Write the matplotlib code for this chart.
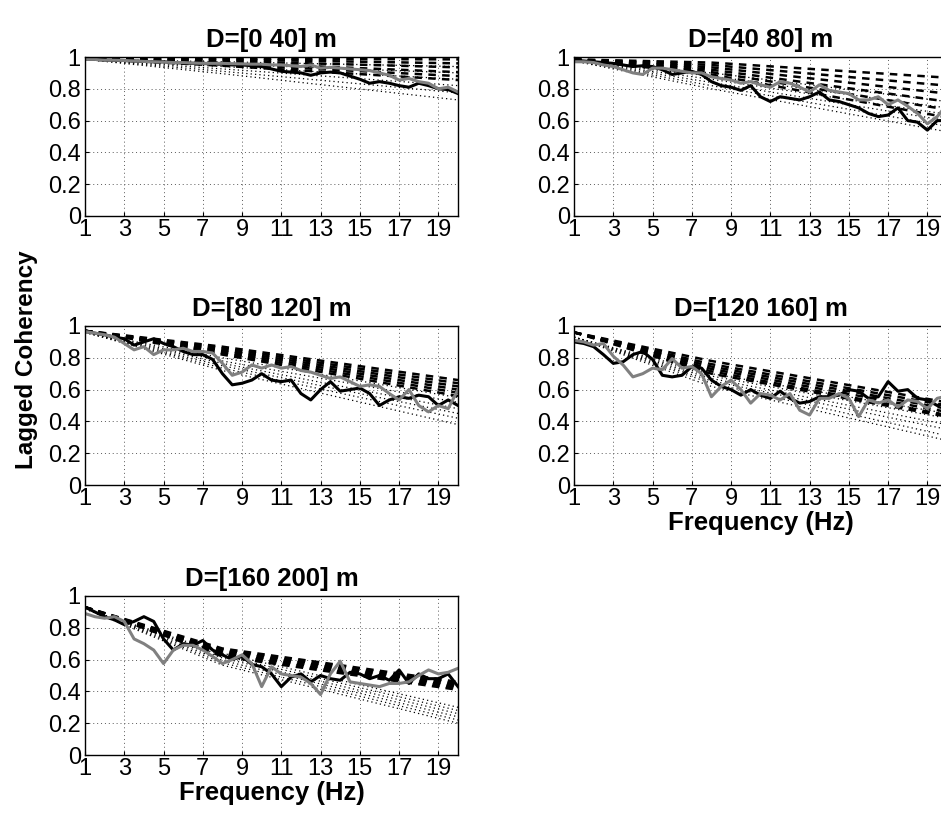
import numpy as np
import matplotlib.pyplot as plt

plt.rcParams['font.family'] = ['Liberation Sans', 'DejaVu Sans']

# frequency axis of the measured coherency
freq = np.arange(1, 20.01, 0.5)

titles = ['D=[0 40] m', 'D=[40 80] m', 'D=[80 120] m', 'D=[120 160] m', 'D=[160 200] m']

# measured lagged coherency, black and grey curves, one list per distance bin
coh_black = [
    [0.985, 0.985, 0.98, 0.98, 0.978, 0.975, 0.972, 0.97, 0.97, 0.965,
     0.962, 0.96, 0.96, 0.955, 0.955, 0.95, 0.95, 0.945, 0.94, 0.925,
     0.91, 0.905, 0.90, 0.885, 0.90, 0.905, 0.90, 0.88, 0.86, 0.835,
     0.845, 0.835, 0.82, 0.81, 0.835, 0.82, 0.80, 0.795, 0.77],
    [0.98, 0.975, 0.97, 0.965, 0.96, 0.95, 0.94, 0.945, 0.94, 0.92,
     0.89, 0.90, 0.91, 0.89, 0.845, 0.82, 0.81, 0.79, 0.82, 0.75,
     0.72, 0.75, 0.74, 0.73, 0.75, 0.78, 0.73, 0.72, 0.70, 0.68,
     0.645, 0.625, 0.635, 0.68, 0.60, 0.59, 0.54, 0.60, 0.60],
    [0.965, 0.955, 0.945, 0.93, 0.92, 0.88, 0.90, 0.92, 0.89, 0.87,
     0.84, 0.82, 0.82, 0.79, 0.70, 0.63, 0.64, 0.66, 0.70, 0.66,
     0.65, 0.66, 0.575, 0.535, 0.60, 0.65, 0.59, 0.60, 0.61, 0.575,
     0.50, 0.535, 0.555, 0.545, 0.565, 0.555, 0.50, 0.535, 0.50],
    [0.90, 0.89, 0.87, 0.82, 0.765, 0.775, 0.82, 0.84, 0.79, 0.69,
     0.68, 0.69, 0.745, 0.735, 0.66, 0.62, 0.60, 0.565, 0.60, 0.565,
     0.545, 0.59, 0.545, 0.515, 0.525, 0.555, 0.555, 0.565, 0.60, 0.59,
     0.545, 0.555, 0.65, 0.59, 0.60, 0.545, 0.535, 0.50, 0.52],
    [0.93, 0.90, 0.87, 0.85, 0.82, 0.84, 0.87, 0.84, 0.73, 0.66,
     0.70, 0.69, 0.72, 0.66, 0.63, 0.60, 0.62, 0.57, 0.555, 0.51,
     0.43, 0.49, 0.51, 0.46, 0.50, 0.48, 0.47, 0.52, 0.51, 0.48,
     0.50, 0.47, 0.535, 0.45, 0.51, 0.48, 0.48, 0.51, 0.43],
]
coh_grey = [
    [0.985, 0.985, 0.98, 0.98, 0.978, 0.975, 0.972, 0.97, 0.968, 0.965,
     0.965, 0.962, 0.96, 0.96, 0.96, 0.958, 0.957, 0.955, 0.955, 0.95,
     0.95, 0.945, 0.94, 0.95, 0.93, 0.935, 0.93, 0.925, 0.92, 0.915,
     0.90, 0.885, 0.855, 0.865, 0.845, 0.835, 0.80, 0.81, 0.78],
    [0.97, 0.97, 0.965, 0.95, 0.94, 0.92, 0.90, 0.89, 0.93, 0.93,
     0.92, 0.91, 0.90, 0.90, 0.875, 0.865, 0.855, 0.835, 0.845, 0.825,
     0.81, 0.845, 0.835, 0.81, 0.78, 0.825, 0.79, 0.78, 0.77, 0.73,
     0.73, 0.75, 0.70, 0.73, 0.69, 0.645, 0.58, 0.625, 0.70],
    [0.965, 0.955, 0.945, 0.93, 0.89, 0.85, 0.87, 0.82, 0.85, 0.85,
     0.86, 0.84, 0.84, 0.83, 0.765, 0.69, 0.71, 0.755, 0.735, 0.755,
     0.735, 0.745, 0.72, 0.71, 0.69, 0.67, 0.68, 0.65, 0.62, 0.63,
     0.62, 0.575, 0.535, 0.60, 0.50, 0.46, 0.50, 0.48, 0.60],
    [0.91, 0.90, 0.88, 0.89, 0.81, 0.755, 0.68, 0.70, 0.735, 0.725,
     0.795, 0.735, 0.745, 0.70, 0.555, 0.62, 0.66, 0.60, 0.515, 0.575,
     0.565, 0.535, 0.575, 0.47, 0.44, 0.545, 0.545, 0.575, 0.545, 0.43,
     0.535, 0.515, 0.535, 0.49, 0.535, 0.525, 0.48, 0.545, 0.56],
    [0.89, 0.87, 0.86, 0.87, 0.84, 0.73, 0.70, 0.66, 0.575, 0.66,
     0.69, 0.69, 0.66, 0.62, 0.575, 0.60, 0.63, 0.575, 0.43, 0.555,
     0.51, 0.50, 0.49, 0.45, 0.38, 0.51, 0.59, 0.46, 0.45, 0.44,
     0.43, 0.45, 0.45, 0.46, 0.50, 0.535, 0.51, 0.52, 0.545],
]

# model curves, values at f = 1, 8 and 20 Hz
knot_f = [1, 8, 20]
dash_start = [0.99, 0.985, 0.97, 0.96, 0.93]
dash_mid = [
    [0.99, 0.985, 0.975, 0.965, 0.955, 0.945],
    [0.965, 0.95, 0.935, 0.92, 0.905, 0.89],
    [0.87, 0.86, 0.85, 0.84, 0.83, 0.82],
    [0.78, 0.76, 0.745, 0.73, 0.715, 0.70],
    [0.67, 0.66, 0.65, 0.64, 0.63, 0.62],
]
dash_end = [
    [0.985, 0.96, 0.935, 0.905, 0.88, 0.855],
    [0.87, 0.82, 0.77, 0.72, 0.67, 0.62],
    [0.66, 0.64, 0.62, 0.60, 0.58, 0.56],
    [0.52, 0.50, 0.48, 0.46, 0.44, 0.43],
    [0.46, 0.45, 0.44, 0.43, 0.42, 0.41],
]
dot_start = [0.985, 0.975, 0.96, 0.93, 0.92]
dot_mid = [
    [0.97, 0.955, 0.94, 0.925, 0.91, 0.895],
    [0.90, 0.88, 0.86, 0.84, 0.82, 0.80],
    [0.80, 0.78, 0.765, 0.75, 0.735, 0.72],
    [0.70, 0.685, 0.67, 0.655, 0.64, 0.62],
    [0.64, 0.625, 0.61, 0.595, 0.58, 0.565],
]
dot_end = [
    [0.94, 0.90, 0.86, 0.82, 0.775, 0.73],
    [0.72, 0.68, 0.64, 0.60, 0.565, 0.53],
    [0.55, 0.52, 0.48, 0.45, 0.42, 0.38],
    [0.45, 0.42, 0.38, 0.35, 0.31, 0.28],
    [0.30, 0.28, 0.26, 0.24, 0.22, 0.20],
]

xticks = [1, 3, 5, 7, 9, 11, 13, 15, 17, 19]
yticks = [0, 0.2, 0.4, 0.6, 0.8, 1]
ytick_labels = ['0', '0.2', '0.4', '0.6', '0.8', '1']

W, H = 941, 818
fig = plt.figure(figsize=(W / 100, H / 100), dpi=100)

# axes boxes in pixels: left, top (right column runs past the figure edge)
boxes = [(85, 57), (574, 57), (85, 326), (574, 326), (85, 596)]
aw, ah = 373, 159

for i, (x0, y0) in enumerate(boxes):
    ax = fig.add_axes([x0 / W, 1 - (y0 + ah) / H, aw / W, ah / H])

    for j in range(len(dot_mid[i])):
        ax.plot(knot_f, [dot_start[i], dot_mid[i][j], dot_end[i][j]],
                color='k', lw=0.9, linestyle=(0, (1, 2.5)))
    for j in range(len(dash_mid[i])):
        ax.plot(knot_f, [dash_start[i], dash_mid[i][j], dash_end[i][j]],
                color='k', lw=1.8, linestyle=(0, (3, 2.5)))
    ax.plot(freq, coh_black[i], color='k', lw=2.2)
    ax.plot(freq, coh_grey[i], color='#808080', lw=2.2)

    ax.set_xlim(1, 20)
    ax.set_ylim(0, 1)
    ax.set_xticks(xticks)
    ax.set_yticks(yticks)
    ax.set_yticklabels(ytick_labels)
    ax.tick_params(direction='in', length=3, labelsize=17)
    ax.tick_params(axis='x', pad=2)
    ax.tick_params(axis='y', pad=3)
    ax.grid(True, color='0.35', linestyle=(0, (1, 3)), lw=0.7)
    for s in ax.spines.values():
        s.set_linewidth(1.0)
    ax.set_title(titles[i], fontsize=18.5, fontweight='bold', pad=7)

    if i in (3, 4):
        ax.set_xlabel('Frequency (Hz)', fontsize=18.5, fontweight='bold', labelpad=1)

fig.text(27 / W, 1 - 360 / H, 'Lagged Coherency', rotation=90, fontsize=17.5,
         fontweight='bold', ha='center', va='center')

fig.savefig('out.png', dpi=100)
